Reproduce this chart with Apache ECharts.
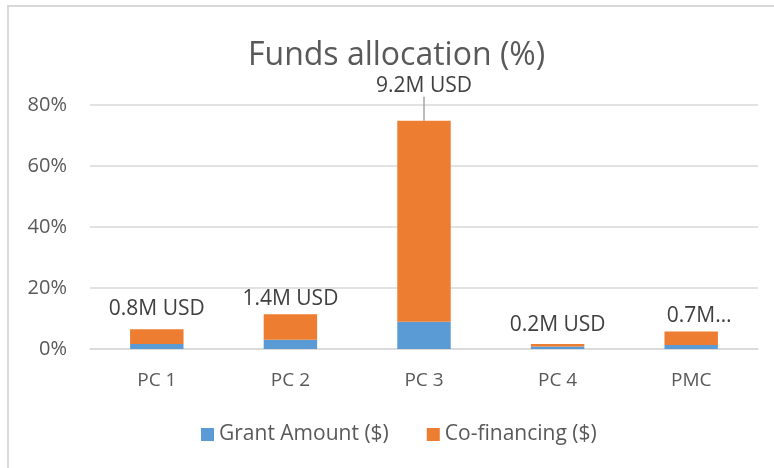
<!DOCTYPE html>
<html>
<head>
<meta charset="utf-8">
<script src="https://cdn.jsdelivr.net/npm/echarts@6/dist/echarts.min.js"></script>
<style>
  html, body { margin: 0; padding: 0; background: #fff; }
  #main { width: 774px; height: 468px; }
</style>
</head>
<body>
<div id="main"></div>
<script>
var categories = ['PC 1', 'PC 2', 'PC 3', 'PC 4', 'PMC'];
var grantShare = [1.6, 3.0, 8.9, 0.8, 1.3];      // % of total funds
var cofinShare = [4.9, 8.4, 65.9, 0.8, 4.4];     // % of total funds
var totalLabels = ['0.8M USD', '1.4M USD', '9.2M USD', '0.2M USD', '0.7M USD'];
var yTicks = [0, 20, 40, 60, 80];

var fontFam = '"Open Sans", sans-serif';
var grey = '#595959';

var myChart = echarts.init(document.getElementById('main'));

// label gaps above each stack (the excel labels were nudged by hand)
var labelGap = { 0: 10, 1: 5, 2: 9, 3: 9, 4: 5 };

// orange on top of the stack carries the totals label
var cofinData = cofinShare.map(function (v, i) {
    var item = { value: v, label: { formatter: totalLabels[i], distance: labelGap[i] } };
    if (i == 2) {
        item.labelLine = { show: true, lineStyle: { color: '#a6a6a6', width: 1.5 } };
    }
    if (i == 4) {
        item.label.width = 72;
        item.label.overflow = 'truncate';
        item.label.ellipsis = '…';
    }
    return item;
});

var option = {
    animation: false,
    title: {
        text: 'Funds allocation (%)',
        left: 243,
        top: 35,
        textStyle: { fontFamily: fontFam, fontSize: 32, fontWeight: 'normal', color: grey }
    },
    graphic: [{
        type: 'rect',
        shape: { x: 8, y: 6, width: 800, height: 500 },
        style: { fill: 'none', stroke: '#d9d9d9', lineWidth: 2 },
        silent: true
    }],
    legend: {
        bottom: 18,
        left: 196,
        itemWidth: 13,
        itemHeight: 13,
        itemGap: 38,
        icon: 'rect',
        textStyle: { fontFamily: fontFam, fontSize: 21, color: grey },
        data: ['Grant Amount ($)', 'Co-financing ($)']
    },
    grid: { left: 90, right: 16, top: 105, bottom: 119, containLabel: false },
    xAxis: {
        type: 'category',
        data: categories,
        axisLine: { lineStyle: { color: '#d9d9d9', width: 1.5 } },
        axisTick: { show: false },
        axisLabel: { fontFamily: fontFam, fontSize: 19, color: grey, margin: 22 }
    },
    yAxis: {
        type: 'value',
        min: yTicks[0],
        max: yTicks[yTicks.length - 1],
        interval: 20,
        axisLine: { show: false },
        axisTick: { show: false },
        splitLine: { lineStyle: { color: '#d9d9d9', width: 1.5 } },
        axisLabel: {
            fontFamily: fontFam, fontSize: 20, color: grey, margin: 23,
            formatter: '{value}%'
        }
    },
    series: [
        {
            name: 'Grant Amount ($)',
            type: 'bar',
            stack: 'funds',
            barCategoryGap: '60%',
            itemStyle: { color: '#5b9bd5' },
            data: grantShare
        },
        {
            name: 'Co-financing ($)',
            type: 'bar',
            stack: 'funds',
            barCategoryGap: '60%',
            itemStyle: { color: '#ed7d31' },
            label: {
                show: true,
                position: 'top',
                fontFamily: fontFam,
                fontSize: 21,
                color: '#404040'
            },
            labelLine: { show: false },
            labelLayout: function (p) {
                if (p.dataIndex == 2) return { dy: -15 };
                if (p.dataIndex == 4) return { dx: 8 };
                return {};
            },
            data: cofinData
        }
    ]
};

myChart.setOption(option);
</script>
</body>
</html>
